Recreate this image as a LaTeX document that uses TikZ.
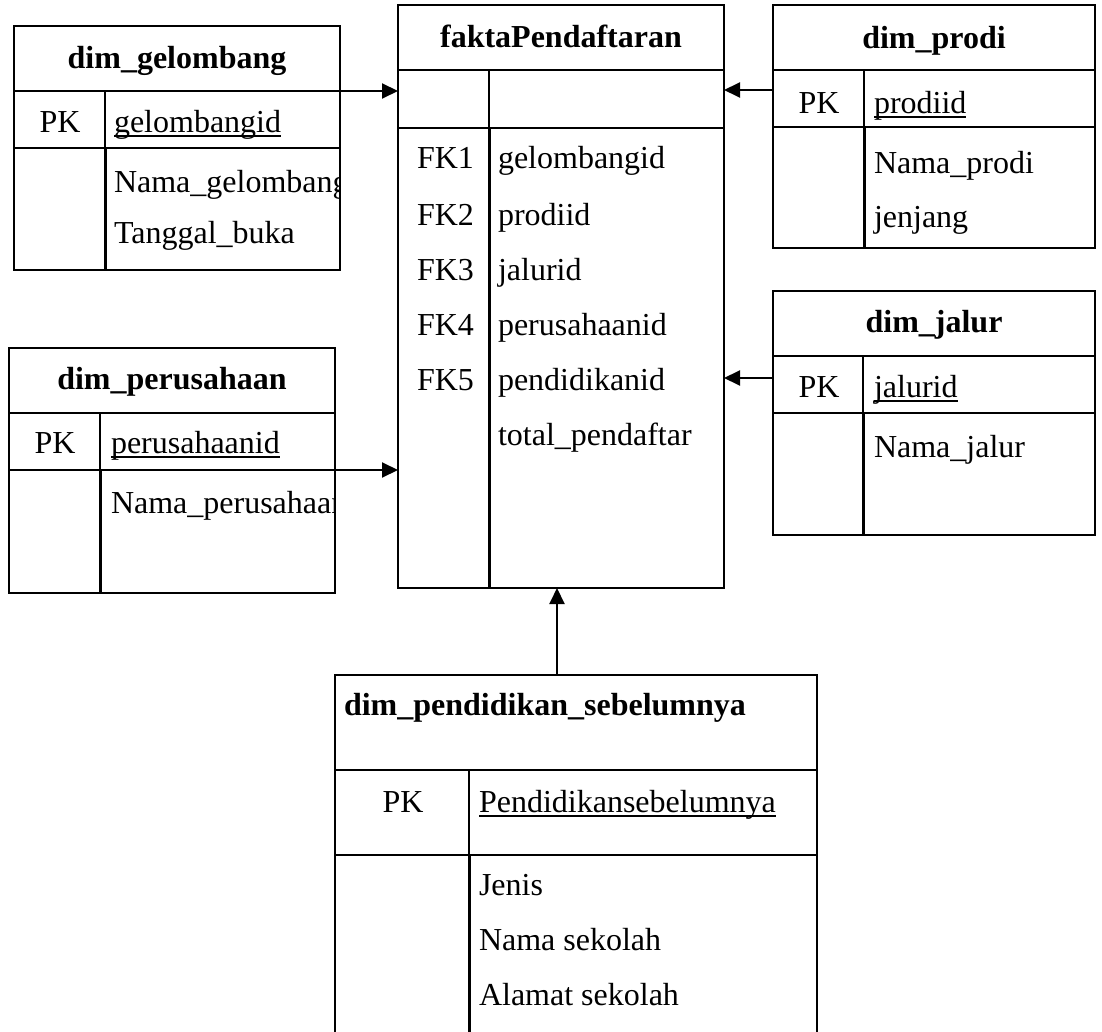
\documentclass[tikz,border=0pt]{standalone}
\usepackage{fontspec}
\setmainfont{Liberation Serif}
\usetikzlibrary{arrows.meta}

\newcommand{\pkline}[1]{\setbox0\hbox{#1}\rlap{\rule[-2.2pt]{\wd0}{0.8pt}}\box0}

\tikzset{
    fld/.style={anchor=west, inner sep=0pt, text height=11pt, text depth=3.5pt, yshift=-1.5pt},
    keylbl/.style={inner sep=0pt, text height=11pt, text depth=3.5pt, yshift=-1.5pt},
    fklbl/.style={anchor=east, inner sep=0pt, text height=11pt, text depth=3.5pt, yshift=-1.5pt},
    ttl/.style={inner sep=0pt, font=\fontsize{16}{19}\selectfont\bfseries, text height=11pt, text depth=3.5pt, yshift=-1.5pt},
    coldiv/.style={line width=1.5pt},
    pkdiv/.style={line width=0.75pt},
    fkarrow/.style={line width=1pt, -{Triangle[length=8pt, width=7.5pt]}}
}

\begin{document}
\begin{tikzpicture}[x=0.5pt, y=-0.5pt, line width=1pt, font=\fontsize{16}{19}\selectfont]

        \useasboundingbox (0,0) rectangle (1102,1032);
        \clip (0,0) rectangle (1102,1032);

        % dim_gelombang
        \begin{scope}[shift={(14,26)}]
            \draw (0,0) rectangle (326,244);
            \draw (0,65) -- (326,65);
            \draw (0,122) -- (326,122);
            \draw[pkdiv] (91,65) -- (91,122);
            \draw[coldiv] (91,122) -- (91,244);
            \node[ttl] (gel_title) at (163,32) {dim\_gelombang};
            \node[keylbl] (gel_pk) at (46,96) {PK};
            \node[fld] (gel_id) at (99,96) {\pkline{gelombangid}};
            \begin{scope}
                \clip (91,122) rectangle (326,244);
                \node[fld] (gel_nama) at (99,156) {Nama\_gelombang};
            \end{scope}
            \node[fld] (gel_tgl) at (99,207) {Tanggal\_buka};
            \coordinate (gel_link) at (326,65);
        \end{scope}

        % faktaPendaftaran
        \begin{scope}[shift={(398,5)}]
            \draw (0,0) rectangle (326,583);
            \draw (0,65) -- (326,65);
            \draw (0,123) -- (326,123);
            \draw[pkdiv] (91,65) -- (91,123);
            \draw[coldiv] (91,123) -- (91,583);
            \node[ttl] (fak_title) at (163,32) {faktaPendaftaran};
            \node[fklbl] (fak_fk1) at (77,153) {FK1};
            \node[fklbl] (fak_fk2) at (77,210) {FK2};
            \node[fklbl] (fak_fk3) at (77,265) {FK3};
            \node[fklbl] (fak_fk4) at (77,320) {FK4};
            \node[fklbl] (fak_fk5) at (77,375) {FK5};
            \node[fld] (fak_gel) at (99,153) {gelombangid};
            \node[fld] (fak_prodi) at (99,210) {prodiid};
            \node[fld] (fak_jalur) at (99,265) {jalurid};
            \node[fld] (fak_per) at (99,320) {perusahaanid};
            \node[fld] (fak_pend) at (99,375) {pendidikanid};
            \node[fld] (fak_total) at (99,430) {total\_pendaftar};
            \coordinate (fak_in_gel) at (0,86);
            \coordinate (fak_in_prodi) at (326,85);
            \coordinate (fak_in_jalur) at (326,373);
            \coordinate (fak_in_per) at (0,465);
            \coordinate (fak_in_pend) at (159,583);
        \end{scope}

        % dim_prodi
        \begin{scope}[shift={(773,5)}]
            \draw (0,0) rectangle (322,243);
            \draw (0,65) -- (322,65);
            \draw (0,122) -- (322,122);
            \draw[pkdiv] (91,65) -- (91,122);
            \draw[coldiv] (91,122) -- (91,243);
            \node[ttl] (prodi_title) at (161,33) {dim\_prodi};
            \node[keylbl] (prodi_pk) at (46,98) {PK};
            \node[fld] (prodi_id) at (100,98) {\pkline{prodiid}};
            \node[fld] (prodi_nama) at (100,158) {Nama\_prodi};
            \node[fld] (prodi_jenjang) at (100,212) {jenjang};
            \coordinate (prodi_link) at (0,85);
        \end{scope}

        % dim_jalur
        \begin{scope}[shift={(773,291)}]
            \draw (0,0) rectangle (322,244);
            \draw (0,65) -- (322,65);
            \draw (0,122) -- (322,122);
            \draw[pkdiv] (90,65) -- (90,122);
            \draw[coldiv] (90,122) -- (90,244);
            \node[ttl] (jalur_title) at (161,31) {dim\_jalur};
            \node[keylbl] (jalur_pk) at (46,96) {PK};
            \node[fld] (jalur_id) at (100,96) {\pkline{jalurid}};
            \node[fld] (jalur_nama) at (100,156) {Nama\_jalur};
            \coordinate (jalur_link) at (0,87);
        \end{scope}

        % dim_perusahaan
        \begin{scope}[shift={(9,348)}]
            \draw (0,0) rectangle (326,245);
            \draw (0,65) -- (326,65);
            \draw (0,122) -- (326,122);
            \draw[pkdiv] (91,65) -- (91,122);
            \draw[coldiv] (91,122) -- (91,245);
            \node[ttl] (per_title) at (163,31) {dim\_perusahaan};
            \node[keylbl] (per_pk) at (46,95) {PK};
            \node[fld] (per_id) at (101,95) {\pkline{perusahaanid}};
            \begin{scope}
                \clip (91,122) rectangle (326,245);
                \node[fld] (per_nama) at (101,155) {Nama\_perusahaan};
            \end{scope}
            \coordinate (per_link) at (326,122);
        \end{scope}

        % dim_pendidikan_sebelumnya
        \begin{scope}[shift={(335,675)}]
            \draw (0,0) rectangle (482,420);
            \draw (0,95) -- (482,95);
            \draw (0,180) -- (482,180);
            \draw[pkdiv] (134,95) -- (134,180);
            \draw[coldiv] (134,180) -- (134,420);
            \node[ttl, anchor=west] (pend_title) at (8,30) {dim\_pendidikan\_sebelumnya};
            \node[keylbl] (pend_pk) at (68,127) {PK};
            \node[fld] (pend_id) at (143,127) {\pkline{Pendidikansebelumnya}};
            \node[fld] (pend_jenis) at (143,210) {Jenis};
            \node[fld] (pend_nama) at (143,265) {Nama sekolah};
            \node[fld] (pend_alamat) at (143,320) {Alamat sekolah};
            \coordinate (pend_link) at (222,0);
        \end{scope}

        % relasi ke tabel fakta
        \draw[fkarrow] (gel_link) -- (fak_in_gel);
        \draw[fkarrow] (prodi_link) -- (fak_in_prodi);
        \draw[fkarrow] (jalur_link) -- (fak_in_jalur);
        \draw[fkarrow] (per_link) -- (fak_in_per);
        \draw[fkarrow] (pend_link) -- (fak_in_pend);

    \end{tikzpicture}
\end{document}
